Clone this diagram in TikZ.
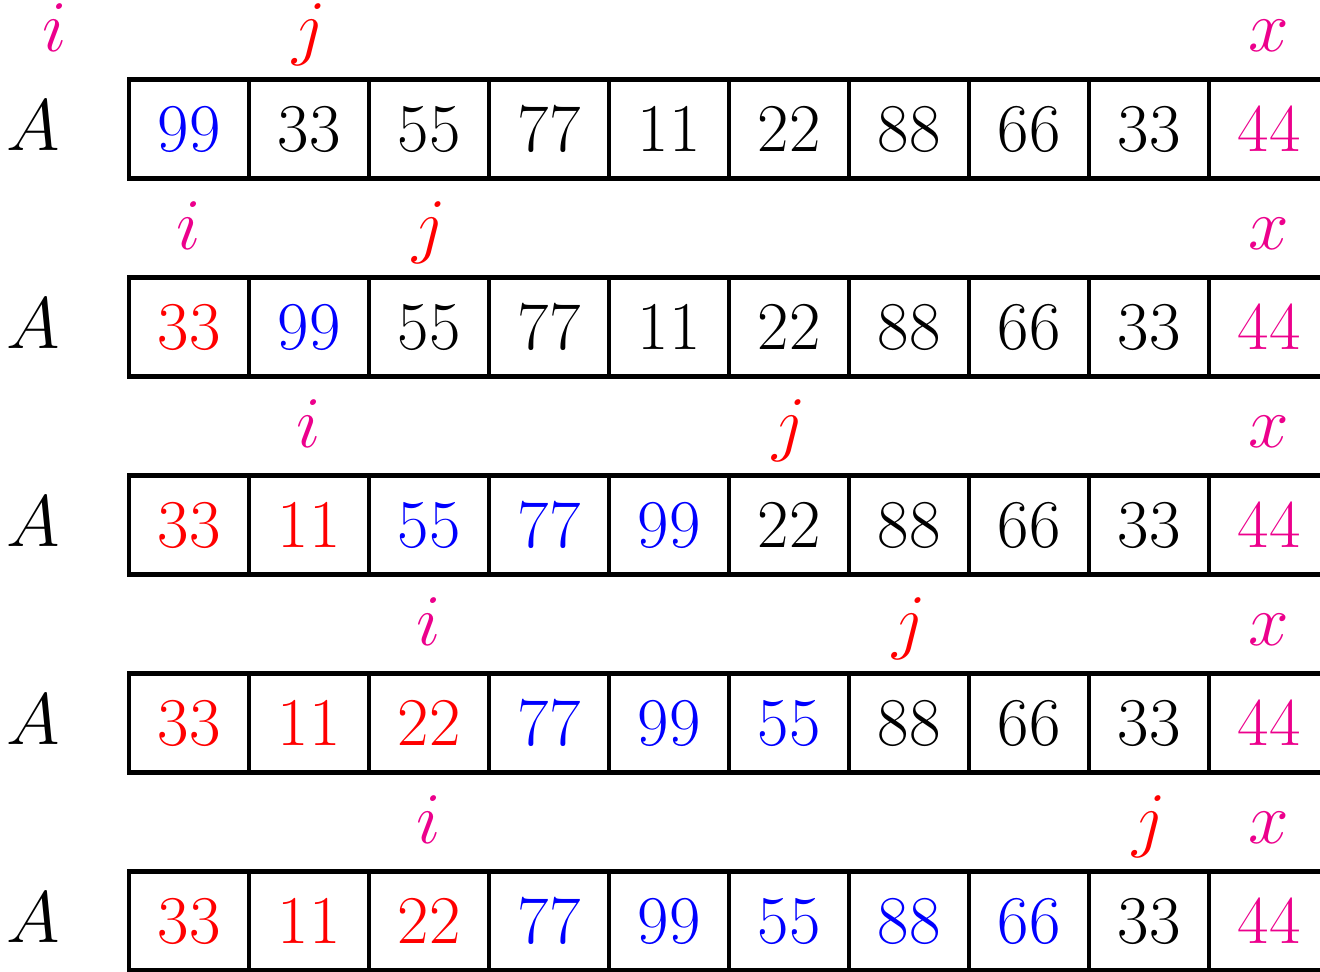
\documentclass[tikz,border=0pt]{standalone}
\usepackage{tikz}
\usetikzlibrary{positioning}
\definecolor{ptrmag}{cmyk}{0,1,0,0}

\tikzset{
  cell/.style={draw, line width=1pt, minimum width=1cm, minimum height=0.825cm,
    inner sep=0pt, font=\fontsize{16.2}{19}\selectfont},
  lbl/.style={anchor=base, inner sep=0pt, font=\fontsize{16.2}{19}\selectfont},
}

\begin{document}
\begin{tikzpicture}
  \useasboundingbox (0,0) rectangle (11,-8.092);

  % Ligne 0
  \node[lbl] (A0) at (0.275,-1.25) {$A$};
  \foreach \v/\c [count=\k from 0] in {99/blue,33/black,55/black,77/black,11/black,22/black,88/black,66/black,33/black,44/ptrmag}
    \node[cell, text=\c] (a0-\k) at (1.575+\k,-1.075) {\v};
  \node[lbl, text=ptrmag] (i0) at (0.458,-0.425) {$i$};
  \node[lbl, text=red] (j0) at (2.575,-0.425) {$j$};
  \node[lbl, text=ptrmag] (x0) at (10.575,-0.425) {$x$};

  % Ligne 1
  \node[lbl] (A1) at (0.275,-2.9) {$A$};
  \foreach \v/\c [count=\k from 0] in {33/red,99/blue,55/black,77/black,11/black,22/black,88/black,66/black,33/black,44/ptrmag}
    \node[cell, text=\c] (a1-\k) at (1.575+\k,-2.725) {\v};
  \node[lbl, text=ptrmag] (i1) at (1.575,-2.075) {$i$};
  \node[lbl, text=red] (j1) at (3.575,-2.075) {$j$};
  \node[lbl, text=ptrmag] (x1) at (10.575,-2.075) {$x$};

  % Ligne 2
  \node[lbl] (A2) at (0.275,-4.55) {$A$};
  \foreach \v/\c [count=\k from 0] in {33/red,11/red,55/blue,77/blue,99/blue,22/black,88/black,66/black,33/black,44/ptrmag}
    \node[cell, text=\c] (a2-\k) at (1.575+\k,-4.375) {\v};
  \node[lbl, text=ptrmag] (i2) at (2.575,-3.725) {$i$};
  \node[lbl, text=red] (j2) at (6.575,-3.725) {$j$};
  \node[lbl, text=ptrmag] (x2) at (10.575,-3.725) {$x$};

  % Ligne 3
  \node[lbl] (A3) at (0.275,-6.2) {$A$};
  \foreach \v/\c [count=\k from 0] in {33/red,11/red,22/red,77/blue,99/blue,55/blue,88/black,66/black,33/black,44/ptrmag}
    \node[cell, text=\c] (a3-\k) at (1.575+\k,-6.025) {\v};
  \node[lbl, text=ptrmag] (i3) at (3.575,-5.375) {$i$};
  \node[lbl, text=red] (j3) at (7.575,-5.375) {$j$};
  \node[lbl, text=ptrmag] (x3) at (10.575,-5.375) {$x$};

  % Ligne 4
  \node[lbl] (A4) at (0.275,-7.85) {$A$};
  \foreach \v/\c [count=\k from 0] in {33/red,11/red,22/red,77/blue,99/blue,55/blue,88/blue,66/blue,33/black,44/ptrmag}
    \node[cell, text=\c] (a4-\k) at (1.575+\k,-7.675) {\v};
  \node[lbl, text=ptrmag] (i4) at (3.575,-7.025) {$i$};
  \node[lbl, text=red] (j4) at (9.575,-7.025) {$j$};
  \node[lbl, text=ptrmag] (x4) at (10.575,-7.025) {$x$};
\end{tikzpicture}
\end{document}
